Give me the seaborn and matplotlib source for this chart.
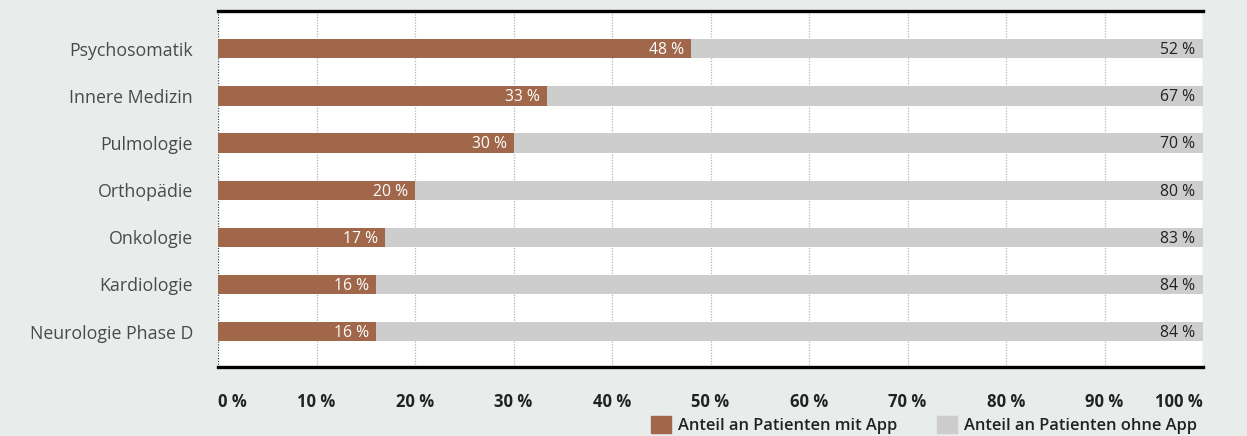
import matplotlib
matplotlib.use("Agg")
import matplotlib.pyplot as plt
import matplotlib.patches as mpatches
import matplotlib.transforms as mtransforms
import seaborn as sns
import pandas as pd

# Daten
fachbereiche = ["Psychosomatik", "Innere Medizin", "Pulmologie", "Orthopädie",
                "Onkologie", "Kardiologie", "Neurologie Phase D"]
mit_app = [48, 33.4, 30, 20, 17, 16, 16]
ohne_app = [52, 66.6, 70, 80, 83, 84, 84]
x_ticks = [0, 10, 20, 30, 40, 50, 60, 70, 80, 90, 100]
legende = ["Anteil an Patienten mit App", "Anteil an Patienten ohne App"]

BRAUN = "#a0674a"
GRAU = "#cdcdcd"
HINTERGRUND = "#e8ecea"

df = pd.DataFrame({"Fachbereich": fachbereiche, "mit": mit_app, "ohne": ohne_app})
df["gesamt"] = df["mit"] + df["ohne"]

sns.set_theme(style="white")
plt.rcParams["font.family"] = ["Open Sans", "DejaVu Sans"]

fig = plt.figure(figsize=(12.47, 4.36), dpi=100, facecolor=HINTERGRUND)
ax = fig.add_axes([218 / 1247, 1 - 367 / 436, 985 / 1247, 356 / 436])
ax.set_facecolor("white")

# gestapelte Balken: erst Gesamt (grau), dann Anteil mit App (braun)
sns.barplot(data=df, y="Fachbereich", x="gesamt", color=GRAU, width=0.41,
            saturation=1, ax=ax, orient="h", linewidth=0)
sns.barplot(data=df, y="Fachbereich", x="mit", color=BRAUN, width=0.41,
            saturation=1, ax=ax, orient="h", linewidth=0)

ax.set_xlim(0, 100)
ax.set_ylim(6.75, -0.8)
ax.set_xlabel("")
ax.set_ylabel("")

# Gitterlinien
for xv in x_ticks:
    farbe = "#444444" if xv in (0, 100) else "#b5b5b5"
    ax.axvline(xv, color=farbe, linestyle=(0, (1, 1.2)), linewidth=0.9, zorder=0.5)

for s in ["left", "right"]:
    ax.spines[s].set_visible(False)
for s in ["top", "bottom"]:
    ax.spines[s].set_color("black")
    ax.spines[s].set_linewidth(2.4)

# Wertebeschriftungen
for i, (m, o) in enumerate(zip(mit_app, ohne_app)):
    ax.text(m - 0.7, i + 0.03, f"{round(m)} %", ha="right", va="center",
            color="white", fontsize=11.3)
    ax.text(99.2, i + 0.03, f"{round(o)} %", ha="right", va="center",
            color="#222222", fontsize=11.3)

ax.set_xticks(x_ticks)
ax.set_xticklabels([f"{v} %" for v in x_ticks], fontweight="bold",
                   fontsize=12, color="#222222")
labels = ax.get_xticklabels()
labels[0].set_ha("left")
labels[-1].set_ha("right")
# erste/letzte Beschriftung leicht nach rechts versetzt
labels[0].set_transform(labels[0].get_transform() +
                        mtransforms.ScaledTranslation(0.04, 0, fig.dpi_scale_trans))
labels[-1].set_transform(labels[-1].get_transform() +
                         mtransforms.ScaledTranslation(0.07, 0, fig.dpi_scale_trans))
ax.tick_params(axis="x", length=0, pad=19)
ax.tick_params(axis="y", length=0, pad=18, labelsize=12.8, labelcolor="#4a4a4a")

# Legende
handles = [mpatches.Patch(color=BRAUN, label=legende[0]),
           mpatches.Patch(color=GRAU, label=legende[1])]
leg = fig.legend(handles=handles, loc="lower right", ncol=2, frameon=False,
                 bbox_to_anchor=(0.972, -0.03),
                 handlelength=1.2, handleheight=1.2, handletextpad=0.45,
                 columnspacing=2.4, prop={"weight": "semibold", "size": 11.9})
for t in leg.get_texts():
    t.set_color("#222222")

plt.savefig("out.png", dpi=100, facecolor=HINTERGRUND)
